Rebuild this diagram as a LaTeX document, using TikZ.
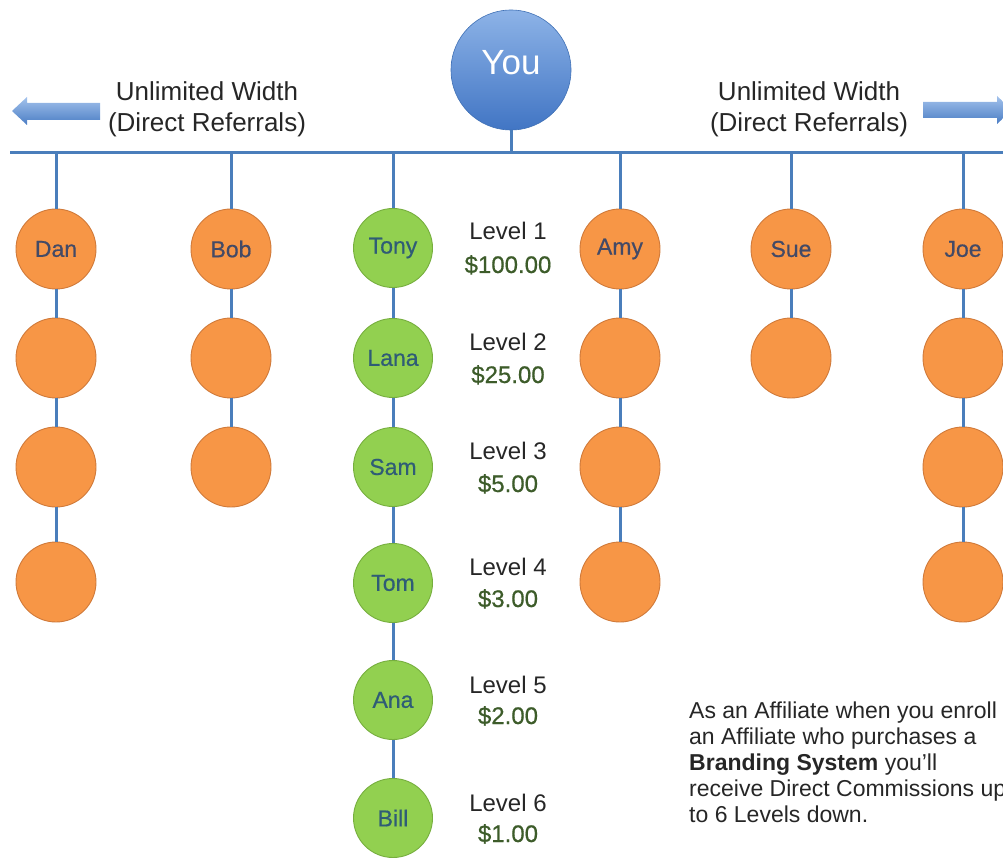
\documentclass[tikz,border=0pt]{standalone}
\usepackage{fontspec}
\setmainfont{Liberation Sans}
\newfontfamily\namefont[FakeBold=0.6]{Liberation Sans}
\definecolor{lineblue}{HTML}{4A7EBB}
\definecolor{orfill}{HTML}{F79646}
\definecolor{ordraw}{HTML}{D07A3A}
\definecolor{grfill}{HTML}{92D050}
\definecolor{grdraw}{HTML}{76AE3E}
\definecolor{youtop}{HTML}{8DB3E7}
\definecolor{youbot}{HTML}{4175C4}
\definecolor{youdraw}{HTML}{3F70B5}
\definecolor{arrtop}{HTML}{A3C2EC}
\definecolor{arrbot}{HTML}{4A7DC4}
\definecolor{orname}{HTML}{434A66}
\definecolor{grname}{HTML}{2F5C76}
\definecolor{txt}{HTML}{262626}
\definecolor{money}{HTML}{3D5C2A}
\begin{document}
\begin{tikzpicture}[x=1pt,y=-1pt,
  link/.style={draw=lineblue,line width=3pt},
  orange/.style={circle,minimum size=80pt,inner sep=0pt,fill=orfill,draw=ordraw,line width=0.9pt,
    text=orname,font=\namefont\fontsize{23}{27}\selectfont},
  green/.style={circle,minimum size=79pt,inner sep=0pt,fill=grfill,draw=grdraw,line width=0.9pt,
    text=grname,font=\namefont\fontsize{23}{27}\selectfont},
  youcircle/.style={circle,minimum size=120pt,inner sep=0pt,top color=youtop,bottom color=youbot,
    draw=youdraw,line width=0.6pt},
  youtext/.style={text=white,font=\fontsize{35}{40}\selectfont,inner sep=0pt},
  headtext/.style={text=txt,align=center,font=\fontsize{26}{31}\selectfont,inner sep=0pt},
  lvl/.style={text=txt,anchor=base,inner sep=0pt,font=\fontsize{24}{28}\selectfont},
  amt/.style={text=money,anchor=base,inner sep=0pt,font=\namefont\fontsize{24}{28}\selectfont},
  note/.style={text=txt,align=left,anchor=north west,inner sep=0pt,font=\fontsize{23}{26}\selectfont},
  arrowshade/.style={top color=arrtop,bottom color=arrbot}
]
\useasboundingbox (0,0) rectangle (1003,858);

% bus line
\coordinate (busL) at (10,153);
\coordinate (busR) at (1003,153);
\draw[link] (busL) -- (busR);

% You
\node[youcircle] (you) at (511,70) {};
\node[youtext] (youlbl) at ([yshift=7pt]you.center) {You};
\draw[link] (you.south) -- (you.south |- busL);

% arrows
\shade[arrowshade] (100,103) -- (27,103) -- (27,97) -- (12,111) -- (27,125) -- (27,120) -- (100,120) -- cycle;
\shade[arrowshade] (923,102) -- (997,102) -- (997,96) -- (1012,110) -- (997,124) -- (997,118) -- (923,118) -- cycle;

% headings
\node[headtext] (hl) at (207,109) {Unlimited Width\\(Direct Referrals)};
\node[headtext] (hr) at (809,109) {Unlimited Width\\(Direct Referrals)};

% columns
\node[orange] (dan1) at (56,249) {Dan};
\node[orange] (dan2) at (56,358) {};
\node[orange] (dan3) at (56,467) {};
\node[orange] (dan4) at (56,582) {};

\node[orange] (bob1) at (231,249) {Bob};
\node[orange] (bob2) at (231,358) {};
\node[orange] (bob3) at (231,467) {};

\node[green] (tony) at (393,248) {Tony};
\node[green] (lana) at (393,358) {Lana};
\node[green] (sam)  at (393,467) {Sam};
\node[green] (tom)  at (393,583) {Tom};
\node[green] (ana)  at (393,700) {Ana};
\node[green] (bill) at (393,818) {Bill};

\node[orange] (amy1) at (620,249) {Amy};
\node[orange] (amy2) at (620,358) {};
\node[orange] (amy3) at (620,467) {};
\node[orange] (amy4) at (620,582) {};

\node[orange] (sue1) at (791,249) {Sue};
\node[orange] (sue2) at (791,358) {};

\node[orange] (joe1) at (963,249) {Joe};
\node[orange] (joe2) at (963,358) {};
\node[orange] (joe3) at (963,467) {};
\node[orange] (joe4) at (963,582) {};

% stems from bus
\foreach \n in {dan1,bob1,tony,amy1,sue1,joe1}
  \draw[link] (\n.north |- busL) -- (\n.north);

% chains
\draw[link] (dan1) -- (dan2);
\draw[link] (dan2) -- (dan3);
\draw[link] (dan3) -- (dan4);
\draw[link] (bob1) -- (bob2);
\draw[link] (bob2) -- (bob3);
\draw[link] (tony) -- (lana);
\draw[link] (lana) -- (sam);
\draw[link] (sam) -- (tom);
\draw[link] (tom) -- (ana);
\draw[link] (ana) -- (bill);
\draw[link] (amy1) -- (amy2);
\draw[link] (amy2) -- (amy3);
\draw[link] (amy3) -- (amy4);
\draw[link] (sue1) -- (sue2);
\draw[link] (joe1) -- (joe2);
\draw[link] (joe2) -- (joe3);
\draw[link] (joe3) -- (joe4);

% levels
\node[lvl] (l1) at (508,240) {Level 1};
\node[amt] (a1) at (508,273) {\$100.00};
\node[lvl] (l2) at (508,350) {Level 2};
\node[amt] (a2) at (508,383) {\$25.00};
\node[lvl] (l3) at (508,459) {Level 3};
\node[amt] (a3) at (508,492) {\$5.00};
\node[lvl] (l4) at (508,575) {Level 4};
\node[amt] (a4) at (508,607) {\$3.00};
\node[lvl] (l5) at (508,693) {Level 5};
\node[amt] (a5) at (508,724) {\$2.00};
\node[lvl] (l6) at (508,811) {Level 6};
\node[amt] (a6) at (508,842) {\$1.00};

% note
\node[note] (nt) at (689,702) {As an Affiliate when you enroll\\an Affiliate who purchases a\\\textbf{Branding System} you'll\\receive Direct Commissions up\\to 6 Levels down.};
\end{tikzpicture}
\end{document}
